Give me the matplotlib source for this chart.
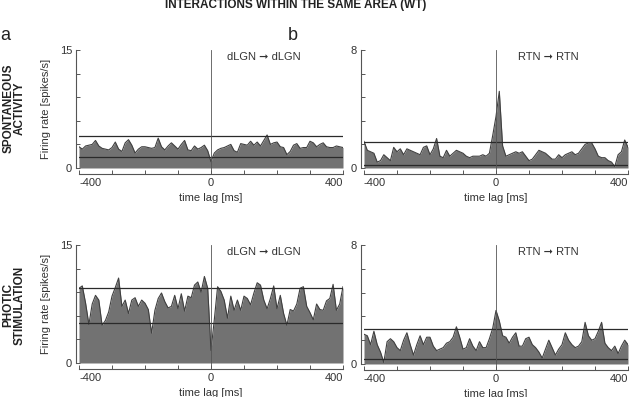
import numpy as np
import matplotlib
matplotlib.use("Agg")
import matplotlib.pyplot as plt

plt.rcParams['font.family'] = ['Liberation Sans', 'DejaVu Sans']

lags = list(range(-400, 401, 10))

dlgn_spont = [2.7, 2.4, 2.8, 2.9, 3.0, 3.5, 2.8, 2.5, 2.4, 2.3, 2.6, 3.3, 2.4, 2.1, 3.2, 3.6,
              2.9, 1.9, 2.4, 2.7, 2.7, 2.6, 2.5, 2.6, 3.8, 2.7, 2.3, 2.8, 3.2, 2.8, 2.4, 3.0,
              3.5, 2.3, 2.2, 2.8, 2.4, 2.6, 2.9, 2.2, 0.8, 1.9, 2.3, 2.5, 2.6, 2.8, 3.0, 2.2,
              2.0, 3.1, 3.0, 2.9, 3.4, 2.9, 3.3, 2.8, 3.5, 4.2, 3.0, 3.2, 3.3, 2.7, 2.6, 1.7,
              2.1, 2.9, 3.1, 2.5, 2.6, 2.6, 3.4, 3.2, 2.7, 3.0, 3.2, 2.7, 2.6, 2.6, 2.8, 2.7, 2.6]
rtn_spont = [1.8, 1.2, 1.1, 1.0, 0.4, 0.5, 0.9, 0.7, 0.5, 1.4, 1.1, 1.3, 0.9, 1.3, 1.2, 1.1,
             1.0, 0.9, 1.4, 1.5, 0.9, 1.3, 2.0, 0.8, 0.7, 1.2, 0.8, 1.0, 1.2, 1.1, 1.0, 0.8,
             0.7, 0.8, 0.8, 0.8, 0.9, 0.8, 1.0, 2.2, 3.5, 5.2, 1.5, 0.8, 0.9, 1.0, 1.1, 1.0,
             1.1, 0.8, 0.5, 0.6, 0.9, 1.2, 1.1, 1.0, 0.8, 0.6, 0.6, 0.9, 0.7, 0.9, 1.0, 1.1,
             0.9, 1.0, 1.3, 1.6, 1.7, 1.7, 1.3, 0.8, 0.7, 0.7, 0.5, 0.4, 0.1, 0.9, 1.1, 1.9, 1.4]
dlgn_photic = [9.5, 9.8, 7.6, 4.9, 7.5, 8.6, 8.0, 4.8, 5.4, 6.5, 8.5, 9.6, 10.8, 7.2, 8.0, 6.3,
               8.0, 8.3, 7.2, 8.0, 7.6, 6.8, 3.8, 6.7, 8.2, 8.9, 7.8, 7.0, 7.2, 8.6, 6.9, 8.8,
               6.6, 8.5, 8.3, 9.9, 10.3, 9.0, 11.0, 9.5, 1.6, 5.5, 9.7, 9.1, 8.0, 5.7, 8.5, 6.7,
               8.0, 6.7, 8.5, 8.2, 7.4, 8.9, 10.2, 9.9, 8.0, 6.9, 8.2, 9.8, 6.9, 8.6, 6.3, 4.8,
               6.8, 6.6, 7.5, 9.5, 9.7, 7.2, 6.4, 5.5, 7.5, 6.8, 6.7, 7.9, 8.2, 10.0, 6.7, 7.5, 9.7]
rtn_photic = [2.0, 1.9, 1.3, 2.2, 1.3, 0.8, 0.1, 1.5, 1.7, 1.5, 1.1, 0.9, 1.6, 2.1, 1.3, 0.6,
              1.3, 1.9, 1.3, 1.8, 1.8, 1.2, 0.9, 1.0, 1.1, 1.4, 1.5, 1.8, 2.5, 1.8, 1.0, 1.1,
              1.7, 1.2, 0.9, 1.5, 1.1, 1.1, 1.7, 2.4, 3.6, 2.9, 1.9, 1.8, 1.4, 1.8, 2.1, 1.2,
              1.2, 1.7, 1.8, 1.3, 1.1, 0.8, 0.4, 1.0, 1.6, 1.1, 0.6, 1.0, 1.3, 2.1, 1.6, 1.3,
              1.1, 1.2, 1.5, 2.8, 1.9, 1.6, 1.7, 2.2, 2.8, 1.4, 1.1, 0.9, 1.2, 0.7, 1.2, 1.6, 1.3]

lower_lines = [1.35, 0.22, 5.08, 0.36]
upper_lines = [4.1, 1.74, 9.57, 2.32]
ymaxes = [15, 8, 15, 8]
pair_labels = ["dLGN \u279e dLGN", "RTN \u279e RTN", "dLGN \u279e dLGN", "RTN \u279e RTN"]
row_labels = ["SPONTANEOUS\nACTIVITY", "PHOTIC\nSTIMULATION"]
x_ticklabels = ["-400", "0", "400"]

series = [dlgn_spont, rtn_spont, dlgn_photic, rtn_photic]

W, H = 631, 397
fig = plt.figure(figsize=(W / 100, H / 100), dpi=100)

def px_axes(x0, x1, ytop, ybot):
    return fig.add_axes([x0 / W, 1 - ybot / H, (x1 - x0) / W, (ybot - ytop) / H])

boxes = [(79, 343, 50, 168), (364, 628, 50, 168), (79, 343, 245, 363), (364, 628, 245, 364)]
fill_c = '#727272'
edge_c = '#404040'
txt_c = '#333333'

for i, (box, y, lo, hi, ymax, lab) in enumerate(zip(boxes, series, lower_lines, upper_lines, ymaxes, pair_labels)):
    ax = px_axes(*box)
    ax.set_xlim(-400, 400)
    ax.set_ylim(0, ymax)
    ax.fill_between(lags, 0, y, color=fill_c, lw=0)
    ax.plot(lags, y, color=edge_c, lw=0.8)
    ax.axhline(lo, color='#2a2a2a', lw=0.9)
    ax.axhline(hi, color='#2a2a2a', lw=0.9)
    ax.axvline(0, ymin=-0.035, ymax=1, color='#555555', lw=0.6, clip_on=False)
    for s in ['top', 'right']:
        ax.spines[s].set_visible(False)
    ax.spines['left'].set_position(('outward', 2))
    ax.spines['bottom'].set_position(('outward', 4))
    ax.spines['left'].set_bounds(0, ymax)
    ax.spines['bottom'].set_bounds(-400, 400)
    for s in ['left', 'bottom']:
        ax.spines[s].set_color('#555555')
        ax.spines[s].set_linewidth(0.8)
    yt = np.linspace(0, ymax, 6)
    ax.set_yticks(yt)
    ax.set_yticklabels([str(ymax) if v == ymax else ('0' if v == 0 else '') for v in yt])
    ax.set_xticks(range(-400, 401, 100))
    ax.set_xticklabels([t if t in x_ticklabels else '' for t in [str(v) for v in range(-400, 401, 100)]])
    ax.tick_params(direction='in', length=3, width=0.7, color='#555555', labelsize=8,
                   labelcolor=txt_c, pad=3)
    xl = ax.get_xticklabels()
    xl[0].set_ha('left')
    xl[-1].set_ha('right')
    ax.set_xlabel('time lag [ms]', fontsize=8, color=txt_c, labelpad=4)
    if i % 2 == 0:
        ax.set_ylabel('Firing rate [spikes/s]', fontsize=8, color=txt_c, labelpad=6)
    ax.text(0.70, 0.94, lab, transform=ax.transAxes, ha='center', va='center',
            fontsize=8, color=txt_c)
    ax.set_facecolor('none')

fig.text(296 / W, 1 - 5 / H, 'INTERACTIONS WITHIN THE SAME AREA (WT)', ha='center', va='center',
         fontsize=8.5, fontweight='bold', color='#222222')
fig.text(5 / W, 1 - 36 / H, 'a', ha='center', va='center', fontsize=13, color='#222222')
fig.text(293 / W, 1 - 36 / H, 'b', ha='center', va='center', fontsize=13, color='#222222')
fig.text(14 / W, 1 - 108 / H, row_labels[0], ha='center', va='center', rotation=90,
         fontsize=8.5, fontweight='bold', color='#222222', linespacing=0.95)
fig.text(14 / W, 1 - 305 / H, row_labels[1], ha='center', va='center', rotation=90,
         fontsize=8.5, fontweight='bold', color='#222222', linespacing=0.95)

fig.savefig('out.png', dpi=100, facecolor='white')
